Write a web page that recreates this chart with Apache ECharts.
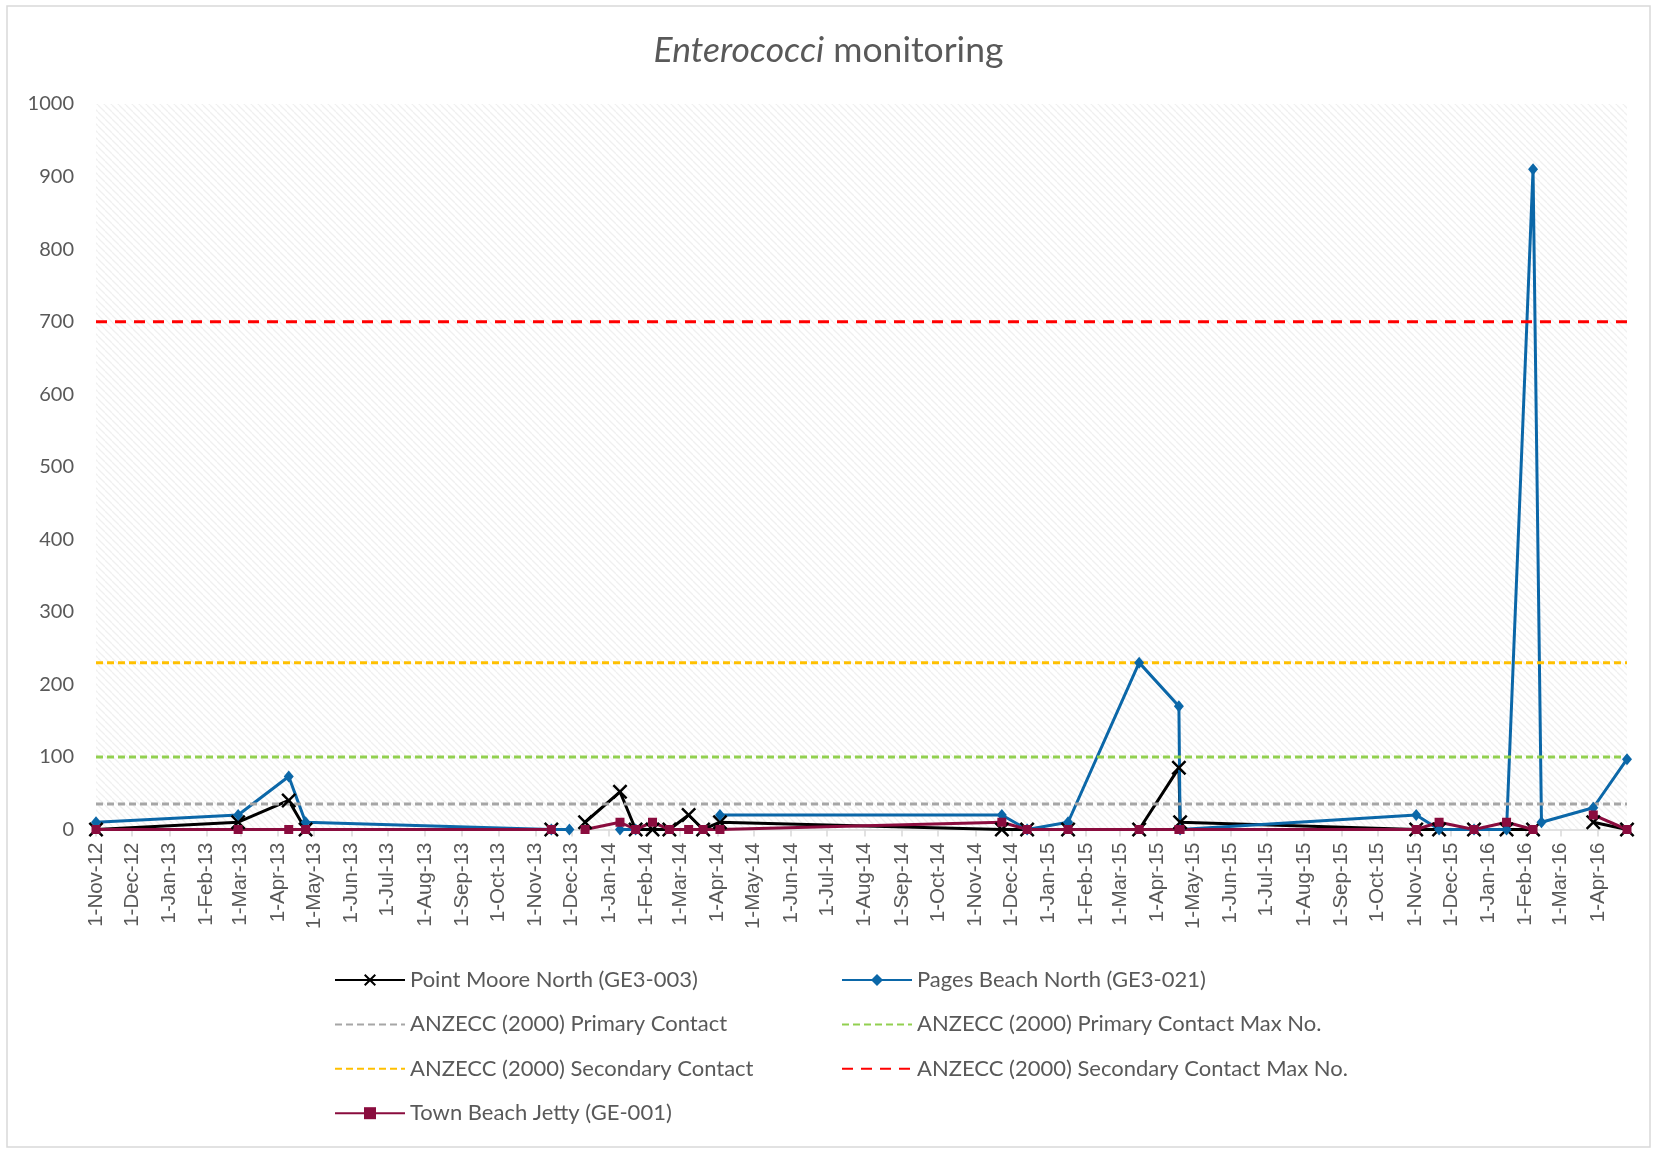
<!DOCTYPE html>
<html>
<head>
<meta charset="utf-8">
<title>Enterococci monitoring</title>
<script src="https://cdn.jsdelivr.net/npm/echarts@6.0.0/dist/echarts.min.js"></script>
<style>
  html, body { margin: 0; padding: 0; background: #fff; }
  #vis { width: 1657px; height: 1153px; }
</style>
</head>
<body>
<div id="vis"></div>
<script>
// sampling dates (shared by all three sites), blanks are null
const sampleDates = [
  '2012-11-01', '2013-02-27', '2013-04-10', '2013-04-24', '2013-11-14', '2013-11-29',
  '2013-12-12', '2014-01-10', '2014-01-23', '2014-02-06', '2014-02-20', '2014-03-08',
  '2014-03-20', '2014-04-03', '2014-11-23', '2014-12-14', '2015-01-17', '2015-03-17',
  '2015-04-19', '2015-04-20', '2015-11-02', '2015-11-21', '2015-12-20', '2016-01-16',
  '2016-02-07', '2016-02-14', '2016-03-28', '2016-04-25'
]
const pointMoore = [0, 10, 40, 0, 0, null, 10, 52, 0, 0, 0, 20, 0, 10, 0, 0, 0, 0, 85, 10, 0, 0, 0, 0, 0, null, 10, 0]
const pagesBeach = [10, 20, 73, 10, 0, 0, null, 0, 0, null, null, null, null, 20, 20, 0, 10, 230, 170, 0, 20, 0, 0, 0, 910, 10, 30, 97]
const townBeach = [0, 0, 0, 0, 0, null, 0, 10, 0, 10, 0, 0, 0, 0, 10, 0, 0, 0, 0, 0, 0, 10, 0, 10, 0, null, 20, 0]

// ANZECC (2000) guideline levels
const primaryContact = 35
const primaryContactMax = 100
const secondaryContact = 230
const secondaryContactMax = 700

const tickLabels = [
  '1-Nov-12', '1-Dec-12', '1-Jan-13', '1-Feb-13', '1-Mar-13', '1-Apr-13', '1-May-13',
  '1-Jun-13', '1-Jul-13', '1-Aug-13', '1-Sep-13', '1-Oct-13', '1-Nov-13', '1-Dec-13',
  '1-Jan-14', '1-Feb-14', '1-Mar-14', '1-Apr-14', '1-May-14', '1-Jun-14', '1-Jul-14',
  '1-Aug-14', '1-Sep-14', '1-Oct-14', '1-Nov-14', '1-Dec-14', '1-Jan-15', '1-Feb-15',
  '1-Mar-15', '1-Apr-15', '1-May-15', '1-Jun-15', '1-Jul-15', '1-Aug-15', '1-Sep-15',
  '1-Oct-15', '1-Nov-15', '1-Dec-15', '1-Jan-16', '1-Feb-16', '1-Mar-16', '1-Apr-16'
]
const yTicks = [0, 100, 200, 300, 400, 500, 600, 700, 800, 900, 1000]

const MONTHS = ['Jan', 'Feb', 'Mar', 'Apr', 'May', 'Jun', 'Jul', 'Aug', 'Sep', 'Oct', 'Nov', 'Dec']

function parseDate (s) {
  const [y, m, d] = s.split('-').map(Number)
  return Date.UTC(y, m - 1, d)
}

function parseTick (s) {
  const [d, m, y] = s.split('-')
  return Date.UTC(2000 + Number(y), MONTHS.indexOf(m), Number(d))
}

const times = sampleDates.map(parseDate)
const tickTimes = tickLabels.map(parseTick)
const labelByTime = {}
tickTimes.forEach((t, i) => { labelByTime[t] = tickLabels[i] })

const pair = (values) => times.map((t, i) => [t, values[i]])
const flat = (v) => [[times[0], v], [times[times.length - 1], v]]

// light downward-diagonal hatch for the plot area
function hatchPattern () {
  const c = document.createElement('canvas')
  const s = 7
  c.width = s
  c.height = s
  const ctx = c.getContext('2d')
  ctx.fillStyle = '#ffffff'
  ctx.fillRect(0, 0, s, s)
  ctx.strokeStyle = '#f0f0f0'
  ctx.lineWidth = 1.3
  for (const off of [-s, 0, s]) {
    ctx.beginPath()
    ctx.moveTo(off, 0)
    ctx.lineTo(off + s, s)
    ctx.stroke()
  }
  return { image: c, repeat: 'repeat' }
}

const crossSymbol = 'path://M0,1.4 L1.4,0 L6,4.6 L10.6,0 L12,1.4 L7.4,6 L12,10.6 L10.6,12 L6,7.4 L1.4,12 L0,10.6 L4.6,6 Z'
const textColor = '#595959'

const legendText = { fontFamily: 'Lato', fontSize: 22, color: textColor, lineHeight: 22 }

const chart = echarts.init(document.getElementById('vis'), null, { renderer: 'canvas' })

const guide = (name, value, color, dash) => ({
  name,
  type: 'line',
  data: flat(value),
  symbol: 'none',
  lineStyle: { color, width: 3, type: dash },
  itemStyle: { color, opacity: 0 }
})

chart.setOption({
  animation: false,
  backgroundColor: '#ffffff',
  title: {
    text: '{i|Enterococci} monitoring',
    left: 'center',
    top: 28,
    textStyle: {
      fontFamily: 'Lato',
      fontSize: 35.5,
      fontWeight: 'normal',
      color: textColor,
      rich: {
        i: { fontFamily: 'Lato', fontSize: 35.5, fontStyle: 'italic', color: textColor }
      }
    }
  },
  graphic: [{
    type: 'rect',
    silent: true,
    shape: { x: 7, y: 6, width: 1643, height: 1141 },
    style: { fill: 'none', stroke: '#d9d9d9', lineWidth: 1.5 }
  }],
  grid: {
    left: 96,
    right: 30,
    top: 104,
    bottom: 323.5,
    show: true,
    borderWidth: 0,
    backgroundColor: hatchPattern()
  },
  legend: [
    {
      orient: 'vertical',
      left: 329,
      top: 964,
      itemWidth: 70,
      itemHeight: 15,
      itemGap: 22.4,
      textStyle: legendText,
      data: ['Point Moore North (GE3-003)', 'ANZECC (2000) Primary Contact',
        'ANZECC (2000) Secondary Contact', 'Town Beach Jetty (GE-001)']
    },
    {
      orient: 'vertical',
      left: 836,
      top: 964,
      itemWidth: 70,
      itemHeight: 15,
      itemGap: 22.4,
      textStyle: legendText,
      data: ['Pages Beach North (GE3-021)', 'ANZECC (2000) Primary Contact Max No.',
        'ANZECC (2000) Secondary Contact Max No.']
    }
  ],
  xAxis: {
    type: 'value',
    min: times[0],
    max: times[times.length - 1],
    axisLine: { lineStyle: { color: '#d9d9d9', width: 1.5 } },
    axisTick: { show: true, length: 7, customValues: tickTimes, lineStyle: { color: '#d9d9d9', width: 1.5 } },
    splitLine: { show: false },
    axisLabel: {
      customValues: tickTimes,
      rotate: 90,
      margin: 13,
      fontFamily: 'Liberation Sans',
      fontSize: 20.5,
      color: textColor,
      formatter: (v) => labelByTime[v] || ''
    }
  },
  yAxis: {
    type: 'value',
    min: yTicks[0],
    max: yTicks[yTicks.length - 1],
    interval: 100,
    axisLine: { show: false },
    axisTick: { show: false },
    splitLine: { show: false },
    axisLabel: { margin: 22, fontFamily: 'Lato', fontSize: 20, color: textColor, formatter: (v) => String(v) }
  },
  series: [
    {
      name: 'Point Moore North (GE3-003)',
      type: 'line',
      data: pair(pointMoore),
      symbol: crossSymbol,
      symbolSize: 15,
      showAllSymbol: true,
      lineStyle: { color: '#000000', width: 3 },
      itemStyle: { color: '#000000' }
    },
    {
      name: 'Pages Beach North (GE3-021)',
      type: 'line',
      data: pair(pagesBeach),
      symbol: 'diamond',
      symbolSize: [10, 12],
      showAllSymbol: true,
      lineStyle: { color: '#0b67a8', width: 3 },
      itemStyle: { color: '#0b67a8' }
    },
    guide('ANZECC (2000) Primary Contact', primaryContact, '#a6a6a6', [7, 4]),
    guide('ANZECC (2000) Primary Contact Max No.', primaryContactMax, '#92d050', [7, 4]),
    guide('ANZECC (2000) Secondary Contact', secondaryContact, '#ffc000', [7, 4]),
    guide('ANZECC (2000) Secondary Contact Max No.', secondaryContactMax, '#ff0000', [11, 8]),
    {
      name: 'Town Beach Jetty (GE-001)',
      type: 'line',
      data: pair(townBeach),
      symbol: 'rect',
      symbolSize: 9,
      showAllSymbol: true,
      lineStyle: { color: '#8a0c3e', width: 3 },
      itemStyle: { color: '#8a0c3e' }
    }
  ]
})
</script>
</body>
</html>
